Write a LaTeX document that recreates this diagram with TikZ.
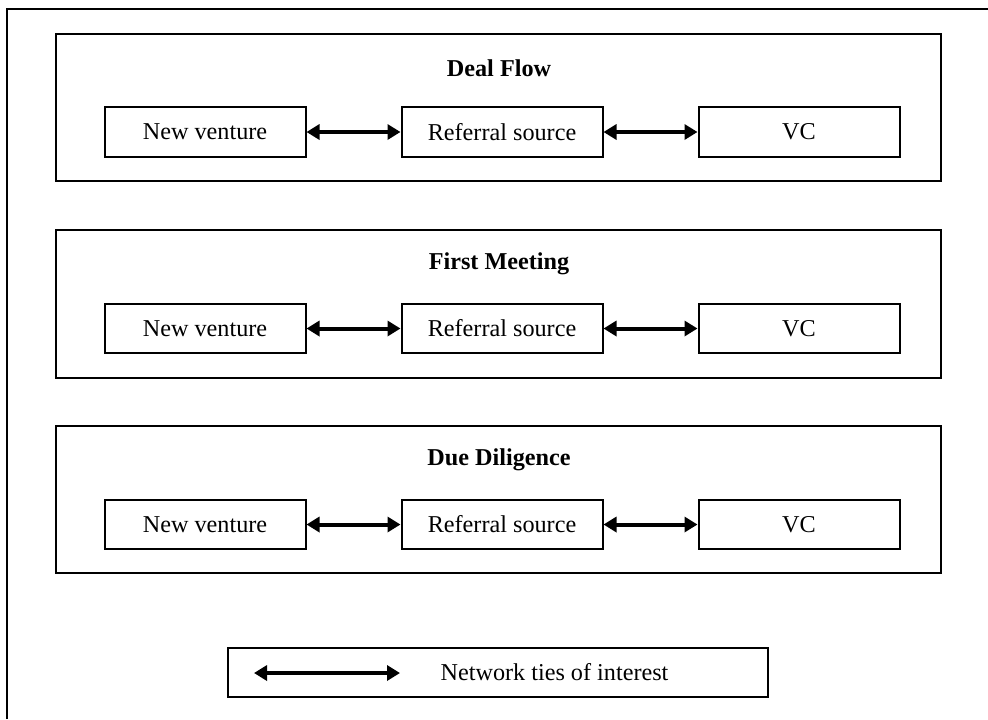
\documentclass[tikz,border=0pt]{standalone}
\usepackage{fontspec}
\setmainfont{Liberation Serif}
\usepackage{tikz}
\usetikzlibrary{arrows.meta}
\usetikzlibrary{positioning}
\tikzset{
    party/.style={draw=black, line width=1pt, minimum width=100.5pt, minimum height=24.75pt,
        inner sep=0pt, font=\fontsize{12.1}{14}\selectfont},
    stage/.style={draw=black, line width=1pt, minimum width=442.5pt, minimum height=73.75pt,
        inner sep=0pt},
    stagetitle/.style={font=\fontsize{12.1}{14}\selectfont\bfseries},
    tie/.style={draw=black, line width=2pt,
        {Triangle[length=6.5pt,width=7.5pt]}-{Triangle[length=6.5pt,width=7.5pt]}},
}
\begin{document}
\begin{tikzpicture}[x=0.5pt, y=-0.5pt]
	\useasboundingbox (0,0) rectangle (988,719);
	% outer frame
	\draw[line width=1pt] (7,719) -- (7,9) -- (988,9);
%
	% deal flow
	\node[stage] (dealflow) at (498.5,107.5) {};
	\node[stagetitle] (dealflowtitle) at (499,68) {Deal Flow};
	\node[party] (nv1) at (205,132) {New venture};
	\node[party, right=47pt of nv1] (rs1) {Referral source};
	\node[party, right=47pt of rs1] (vc1) {VC};
	\draw[tie] (nv1) -- (rs1);
	\draw[tie] (rs1) -- (vc1);
%
	% first meeting
	\node[stage] (firstmeeting) at (498.5,303.75) {};
	\node[stagetitle] (firstmeetingtitle) at (499,264) {First Meeting};
	\node[party] (nv2) at (205,328.5) {New venture};
	\node[party, right=47pt of nv2] (rs2) {Referral source};
	\node[party, right=47pt of rs2] (vc2) {VC};
	\draw[tie] (nv2) -- (rs2);
	\draw[tie] (rs2) -- (vc2);
%
	% due diligence
	\node[stage] (duediligence) at (498.5,499.5) {};
	\node[stagetitle] (duediligencetitle) at (499,460) {Due Diligence};
	\node[party] (nv3) at (205,524.5) {New venture};
	\node[party, right=47pt of nv3] (rs3) {Referral source};
	\node[party, right=47pt of rs3] (vc3) {VC};
	\draw[tie] (nv3) -- (rs3);
	\draw[tie] (rs3) -- (vc3);
%
	% legend
	\node[party, minimum width=270pt] (legend) at (498,672.5) {};
	\coordinate (tieleft) at (254,673);
	\coordinate (tieright) at (400,673);
	\draw[tie] (tieleft) -- (tieright);
	\node[font=\fontsize{12.1}{14}\selectfont] (legendtext) at (554.5,672.5) {Network ties of interest};
 \end{tikzpicture}
\end{document}
